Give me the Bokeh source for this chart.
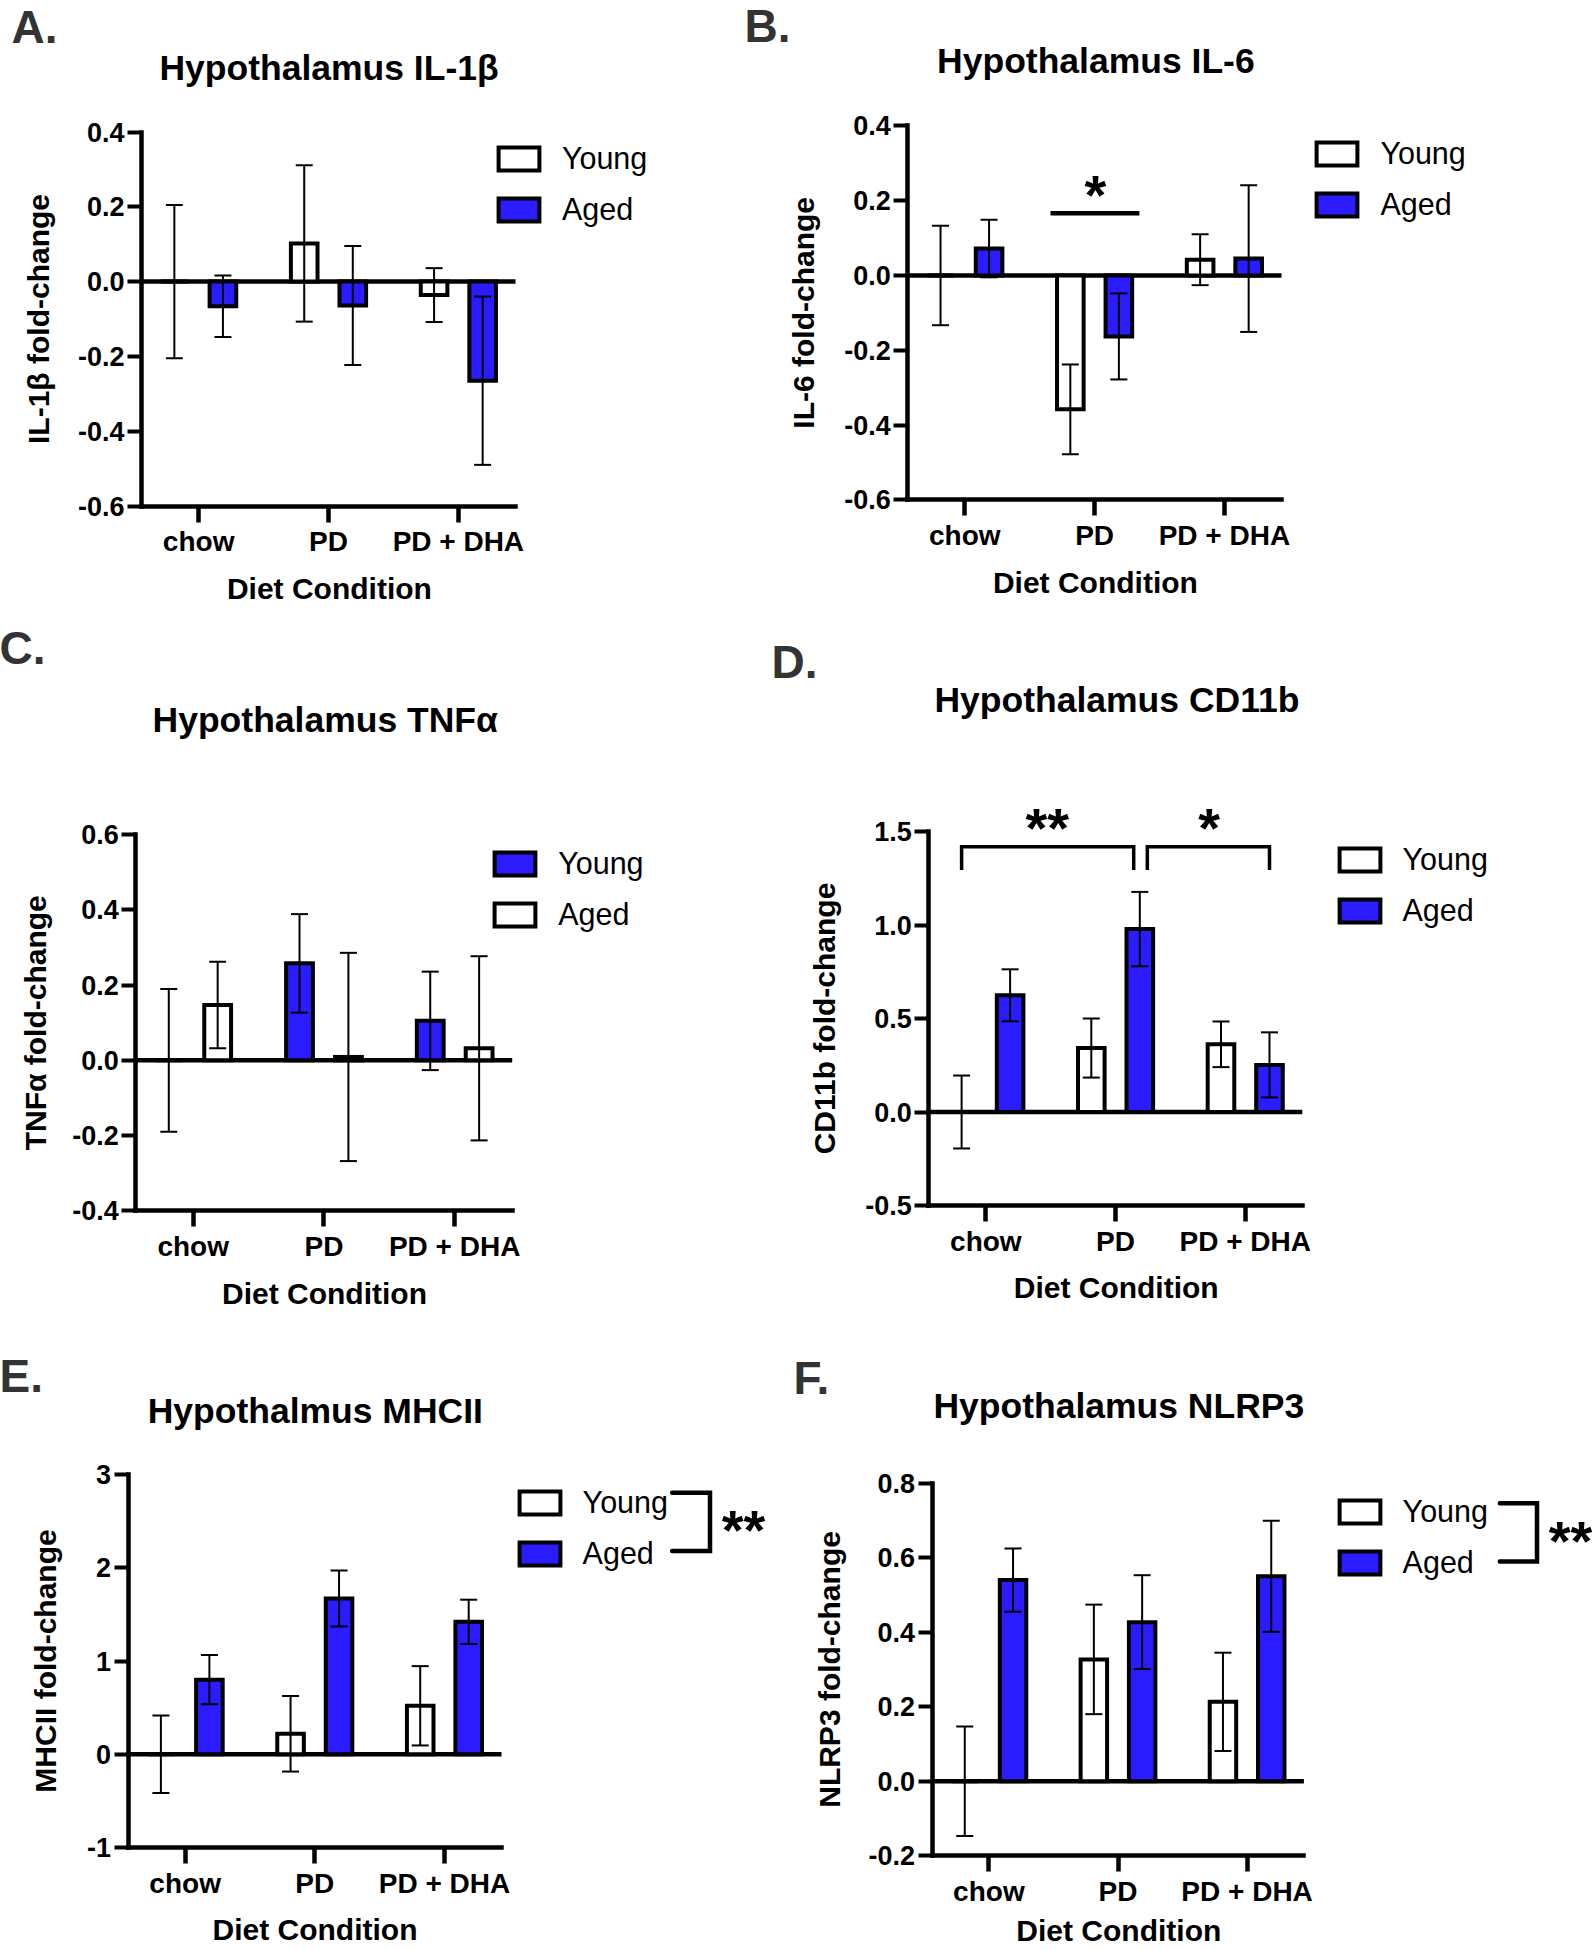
import math
from bokeh.plotting import figure
from bokeh.models import (Range1d, FixedTicker, Whisker, TeeHead, ColumnDataSource,
                          Label, Legend, LegendItem)
from bokeh.layouts import row, column
from bokeh.embed import file_html
from bokeh.resources import INLINE

# ---------------- data ----------------
CATEGORIES = ["chow", "PD", "PD + DHA"]
GROUPS = ["Young", "Aged"]
X_TITLE = "Diet Condition"

IL1B_YOUNG = [0.0, 0.102, -0.036]
IL1B_YOUNG_SEM = [0.205, 0.209, 0.072]
IL1B_AGED = [-0.066, -0.064, -0.265]
IL1B_AGED_SEM = [0.082, 0.159, 0.225]
IL1B_TICKS = [-0.6, -0.4, -0.2, 0.0, 0.2, 0.4]
IL1B_TICK_LABELS = ["-0.6", "-0.4", "-0.2", "0.0", "0.2", "0.4"]

IL6_YOUNG = [0.0, -0.358, 0.042]
IL6_YOUNG_SEM = [0.133, 0.120, 0.068]
IL6_AGED = [0.072, -0.163, 0.045]
IL6_AGED_SEM = [0.077, 0.115, 0.196]
IL6_TICKS = [-0.6, -0.4, -0.2, 0.0, 0.2, 0.4]
IL6_TICK_LABELS = ["-0.6", "-0.4", "-0.2", "0.0", "0.2", "0.4"]

TNF_YOUNG = [0.0, 0.258, 0.105]
TNF_YOUNG_SEM = [0.190, 0.131, 0.131]
TNF_AGED = [0.147, 0.009, 0.032]
TNF_AGED_SEM = [0.115, 0.277, 0.245]
TNF_TICKS = [-0.4, -0.2, 0.0, 0.2, 0.4, 0.6]
TNF_TICK_LABELS = ["-0.4", "-0.2", "0.0", "0.2", "0.4", "0.6"]

CD11B_YOUNG = [0.0, 0.342, 0.362]
CD11B_YOUNG_SEM = [0.195, 0.158, 0.122]
CD11B_AGED = [0.624, 0.978, 0.252]
CD11B_AGED_SEM = [0.139, 0.199, 0.174]
CD11B_TICKS = [-0.5, 0.0, 0.5, 1.0, 1.5]
CD11B_TICK_LABELS = ["-0.5", "0.0", "0.5", "1.0", "1.5"]

MHCII_YOUNG = [0.0, 0.22, 0.52]
MHCII_YOUNG_SEM = [0.415, 0.405, 0.425]
MHCII_AGED = [0.80, 1.67, 1.42]
MHCII_AGED_SEM = [0.263, 0.30, 0.237]
MHCII_TICKS = [-1, 0, 1, 2, 3]
MHCII_TICK_LABELS = ["-1", "0", "1", "2", "3"]

NLRP3_YOUNG = [0.0, 0.327, 0.213]
NLRP3_YOUNG_SEM = [0.147, 0.147, 0.132]
NLRP3_AGED = [0.54, 0.427, 0.55]
NLRP3_AGED_SEM = [0.085, 0.126, 0.149]
NLRP3_TICKS = [-0.2, 0.0, 0.2, 0.4, 0.6, 0.8]
NLRP3_TICK_LABELS = ["-0.2", "0.0", "0.2", "0.4", "0.6", "0.8"]

# ---------------- style / layout ----------------
FONT = "Liberation Sans"
BLUE = "#2B1BFF"
WHITE = "white"
XMIN, XMAX = -0.44, 2.44      # category axis extent
OFF = 0.187                   # bar offset from category centre
BW = 0.205                    # bar width

PANELS = [
    dict(letter="A.", letter_pos=(11, 42.5), title="Hypothalamus IL-1\u03b2", title_pos=(328.5, 80),
         ylabel="IL-1\u03b2 fold-change", ylabel_x=48, xlabel_pos=(328.9, 598.3),
         origin=(0, 0), size=(700, 620), frame=(141, 515, 131.5, 505.5),
         young=IL1B_YOUNG, young_sem=IL1B_YOUNG_SEM, aged=IL1B_AGED, aged_sem=IL1B_AGED_SEM,
         ticks=IL1B_TICKS, tick_labels=IL1B_TICK_LABELS, fills=(WHITE, BLUE), legend=(496, 143.3)),
    dict(letter="B.", letter_pos=(744, 42), title="Hypothalamus IL-6", title_pos=(1095.4, 73.2),
         ylabel="IL-6 fold-change", ylabel_x=813.5, xlabel_pos=(1094.9, 592.2),
         origin=(700, 0), size=(894, 620), frame=(907.2, 1281, 125.3, 499.4),
         young=IL6_YOUNG, young_sem=IL6_YOUNG_SEM, aged=IL6_AGED, aged_sem=IL6_AGED_SEM,
         ticks=IL6_TICKS, tick_labels=IL6_TICK_LABELS, fills=(WHITE, BLUE), legend=(1314.5, 137.5),
         sig_lines=[([0.66, 1.345], [0.166, 0.166])], sig_w=4.5,
         stars=[("*", 1095, 188)]),
    dict(letter="C.", letter_pos=(-1, 664), title="Hypothalamus TNF\u03b1", title_pos=(324.7, 731.7),
         ylabel="TNF\u03b1 fold-change", ylabel_x=45.5, xlabel_pos=(324, 1303),
         origin=(0, 620), size=(700, 700), frame=(135.2, 511.7, 834.3, 1210.2),
         young=TNF_YOUNG, young_sem=TNF_YOUNG_SEM, aged=TNF_AGED, aged_sem=TNF_AGED_SEM,
         ticks=TNF_TICKS, tick_labels=TNF_TICK_LABELS, fills=(BLUE, WHITE), legend=(492.3, 847.7)),
    dict(letter="D.", letter_pos=(771, 677.5), title="Hypothalamus CD11b", title_pos=(1116.4, 711.5),
         ylabel="CD11b fold-change", ylabel_x=834, xlabel_pos=(1115.7, 1297.8),
         origin=(700, 620), size=(894, 700), frame=(928.3, 1301.8, 831, 1205),
         young=CD11B_YOUNG, young_sem=CD11B_YOUNG_SEM, aged=CD11B_AGED, aged_sem=CD11B_AGED_SEM,
         ticks=CD11B_TICKS, tick_labels=CD11B_TICK_LABELS, fills=(WHITE, BLUE), legend=(1336.6, 844.1),
         sig_lines=[([-0.187, -0.187, 1.14, 1.14], [1.294, 1.419, 1.419, 1.294]),
                    ([1.245, 1.245, 2.187, 2.187], [1.294, 1.419, 1.419, 1.294])], sig_w=3.5,
         stars=[("**", 1046.7, 821.7), ("*", 1208.7, 821.7)]),
    dict(letter="E.", letter_pos=(-1, 1392), title="Hypothalmus MHCII", title_pos=(314.8, 1422.5),
         ylabel="MHCII fold-change", ylabel_x=55.7, xlabel_pos=(314.5, 1939.9),
         origin=(0, 1320), size=(780, 630), frame=(127.6, 501, 1473.9, 1847.1),
         young=MHCII_YOUNG, young_sem=MHCII_YOUNG_SEM, aged=MHCII_AGED, aged_sem=MHCII_AGED_SEM,
         ticks=MHCII_TICKS, tick_labels=MHCII_TICK_LABELS, fills=(WHITE, BLUE), legend=(516.7, 1486.7),
         bracket=(671.7, 709.5, 1492.3, 1550.5), stars=[("**", 743, 1523)]),
    dict(letter="F.", letter_pos=(793, 1394), title="Hypothalamus NLRP3", title_pos=(1118.3, 1418.4),
         ylabel="NLRP3 fold-change", ylabel_x=839.5, xlabel_pos=(1118.3, 1940),
         origin=(780, 1320), size=(814, 630), frame=(931.6, 1303.4, 1482.7, 1855.2),
         young=NLRP3_YOUNG, young_sem=NLRP3_YOUNG_SEM, aged=NLRP3_AGED, aged_sem=NLRP3_AGED_SEM,
         ticks=NLRP3_TICKS, tick_labels=NLRP3_TICK_LABELS, fills=(WHITE, BLUE), legend=(1336.7, 1496),
         bracket=(1499.3, 1536.5, 1502.7, 1561), stars=[("**", 1570, 1534)]),
]

STAR_SIZE = 56
STAR_CENTER = 0.45    # asterisk centre above baseline, in em
BASE_FIX = 0.35       # em correction for the rendered text baseline
GW, GH = 51, 29       # legend glyph area
ITEM_H = 35
LEG_SPACING = 16
LEG_DX, LEG_DY = 4, 3


def style_text(model, prefix, size, bold=True, color="black"):
    setattr(model, prefix + "_text_font", FONT)
    setattr(model, prefix + "_text_font_size", f"{size}px")
    setattr(model, prefix + "_text_font_style", "bold" if bold else "normal")
    setattr(model, prefix + "_text_color", color)


def build(cfg):
    ox, oy = cfg["origin"]
    W, H = cfg["size"]
    L, R, T, B = cfg["frame"]
    ticks = cfg["ticks"]
    ymin, ymax = ticks[0], ticks[-1]
    Lc, Rc, Tc, Bc = L - ox, R - ox, T - oy, B - oy
    kx = (Rc - Lc) / (XMAX - XMIN)
    ky = (Bc - Tc) / (ymax - ymin)
    x_range = Range1d(XMIN - Lc / kx, XMAX + (W - Rc) / kx)
    y_range = Range1d(ymin - (H - Bc) / ky, ymax + Tc / ky)

    def dx(x):
        return XMIN + (x - L) / kx

    def dy(y):
        return ymin + (B - y) / ky

    def sx(x):
        return x - ox

    def sy(y):
        return oy + H - y

    def text(x, y, txt, size, align="center", bold=True, color="black", vertical=False):
        if vertical:
            x = x - BASE_FIX * size
        else:
            y = y - BASE_FIX * size
        p.add_layout(Label(x=sx(x), y=sy(y), x_units="screen", y_units="screen",
                           angle=math.pi / 2 if vertical else 0, text=txt, text_align=align,
                           text_baseline="alphabetic", text_font=FONT,
                           text_font_size=f"{size}px",
                           text_font_style="bold" if bold else "normal", text_color=color))

    p = figure(width=W, height=H, title=None, x_range=x_range, y_range=y_range,
               toolbar_location=None, output_backend="svg",
               min_border_left=0, min_border_right=0, min_border_top=0, min_border_bottom=0)
    p.outline_line_color = None
    p.xgrid.visible = False
    p.ygrid.visible = False
    p.background_fill_color = "white"
    p.border_fill_color = "white"

    yax = p.yaxis[0]
    yax.fixed_location = XMIN
    yax.bounds = (ymin, ymax)
    yax.ticker = FixedTicker(ticks=ticks)
    yax.major_label_overrides = {t: s for t, s in zip(ticks, cfg["tick_labels"])}
    yax.axis_line_width = 4.5
    yax.axis_line_cap = "square"
    yax.major_tick_line_width = 4
    yax.major_tick_out = 14
    yax.major_tick_in = 0
    yax.minor_tick_line_color = None
    yax.major_label_standoff = 3
    style_text(yax, "major_label", 27)

    xax = p.xaxis[0]
    xax.fixed_location = ymin
    xax.bounds = (XMIN, XMAX)
    xax.ticker = FixedTicker(ticks=[0, 1, 2])
    xax.major_label_overrides = {i: c for i, c in enumerate(CATEGORIES)}
    xax.axis_line_width = 4.5
    xax.axis_line_cap = "square"
    xax.major_tick_line_width = 4.5
    xax.major_tick_out = 16
    xax.major_tick_in = 0
    xax.minor_tick_line_color = None
    xax.major_label_standoff = 4
    style_text(xax, "major_label", 28)

    # axis titles (y title centred on the value axis)
    text(cfg["ylabel_x"], (T + B) / 2, cfg["ylabel"], 30, vertical=True)
    lx, ly = cfg["xlabel_pos"]
    text(lx, ly, X_TITLE, 30)

    # zero line across the category axis
    p.segment(x0=XMIN, y0=0, x1=XMAX, y1=0, line_color="black", line_width=4.5)

    rends = []
    groups = [(cfg["young"], cfg["young_sem"], cfg["fills"][0], -OFF),
              (cfg["aged"], cfg["aged_sem"], cfg["fills"][1], OFF)]
    for vals, sems, fill, off in groups:
        xs = [i + off for i in range(len(CATEGORIES))]
        src = ColumnDataSource(dict(x=xs, top=vals,
                                    upper=[v + s for v, s in zip(vals, sems)],
                                    lower=[v - s for v, s in zip(vals, sems)]))
        r = p.vbar(x="x", top="top", bottom=0, width=BW, source=src, fill_color=fill,
                   line_color="black", line_width=4, line_join="miter")
        rends.append(r)
        w = Whisker(source=src, base="x", upper="upper", lower="lower", line_width=2,
                    line_color="black", level="overlay",
                    upper_head=TeeHead(size=17, line_width=2, line_color="black"),
                    lower_head=TeeHead(size=17, line_width=2, line_color="black"))
        p.add_layout(w)

    # legend
    bx, by = cfg["legend"]
    gl = bx - 2 - 0.1 * GW + LEG_DX
    gt = by - 2 - 0.1 * GH + LEG_DY
    leg_h = 2 * ITEM_H + LEG_SPACING
    leg = Legend(items=[LegendItem(label=GROUPS[0], renderers=[rends[0]]),
                        LegendItem(label=GROUPS[1], renderers=[rends[1]])],
                 location=(sx(gl), sy(gt + leg_h)), orientation="vertical",
                 glyph_width=GW, glyph_height=GH, label_height=ITEM_H,
                 label_standoff=18, spacing=LEG_SPACING, padding=0, margin=0,
                 border_line_color=None, background_fill_alpha=0)
    style_text(leg, "label", 30.5, bold=False)
    p.add_layout(leg)

    # significance lines
    for xs, ys in cfg.get("sig_lines", []):
        p.line(xs, ys, line_color="black", line_width=cfg["sig_w"], line_join="miter")

    # bracket next to the legend
    if "bracket" in cfg:
        x0, x1, y0, y1 = cfg["bracket"]
        p.line([dx(x0), dx(x1), dx(x1), dx(x0)], [dy(y0), dy(y0), dy(y1), dy(y1)],
               line_color="black", line_width=4.5, line_join="miter", line_cap="round")

    for txt, cx, cy in cfg.get("stars", []):
        text(cx, cy + STAR_CENTER * STAR_SIZE, txt, STAR_SIZE)

    # title and panel letter
    tx, ty = cfg["title_pos"]
    text(tx, ty, cfg["title"], 35.5)
    lx, ly = cfg["letter_pos"]
    text(lx, ly, cfg["letter"], 46, align="left", color="#333333")
    return p


figs = [build(c) for c in PANELS]
layout = column(row(figs[0], figs[1]), row(figs[2], figs[3]), row(figs[4], figs[5]))
open("out.html", "w").write(file_html(layout, INLINE))
